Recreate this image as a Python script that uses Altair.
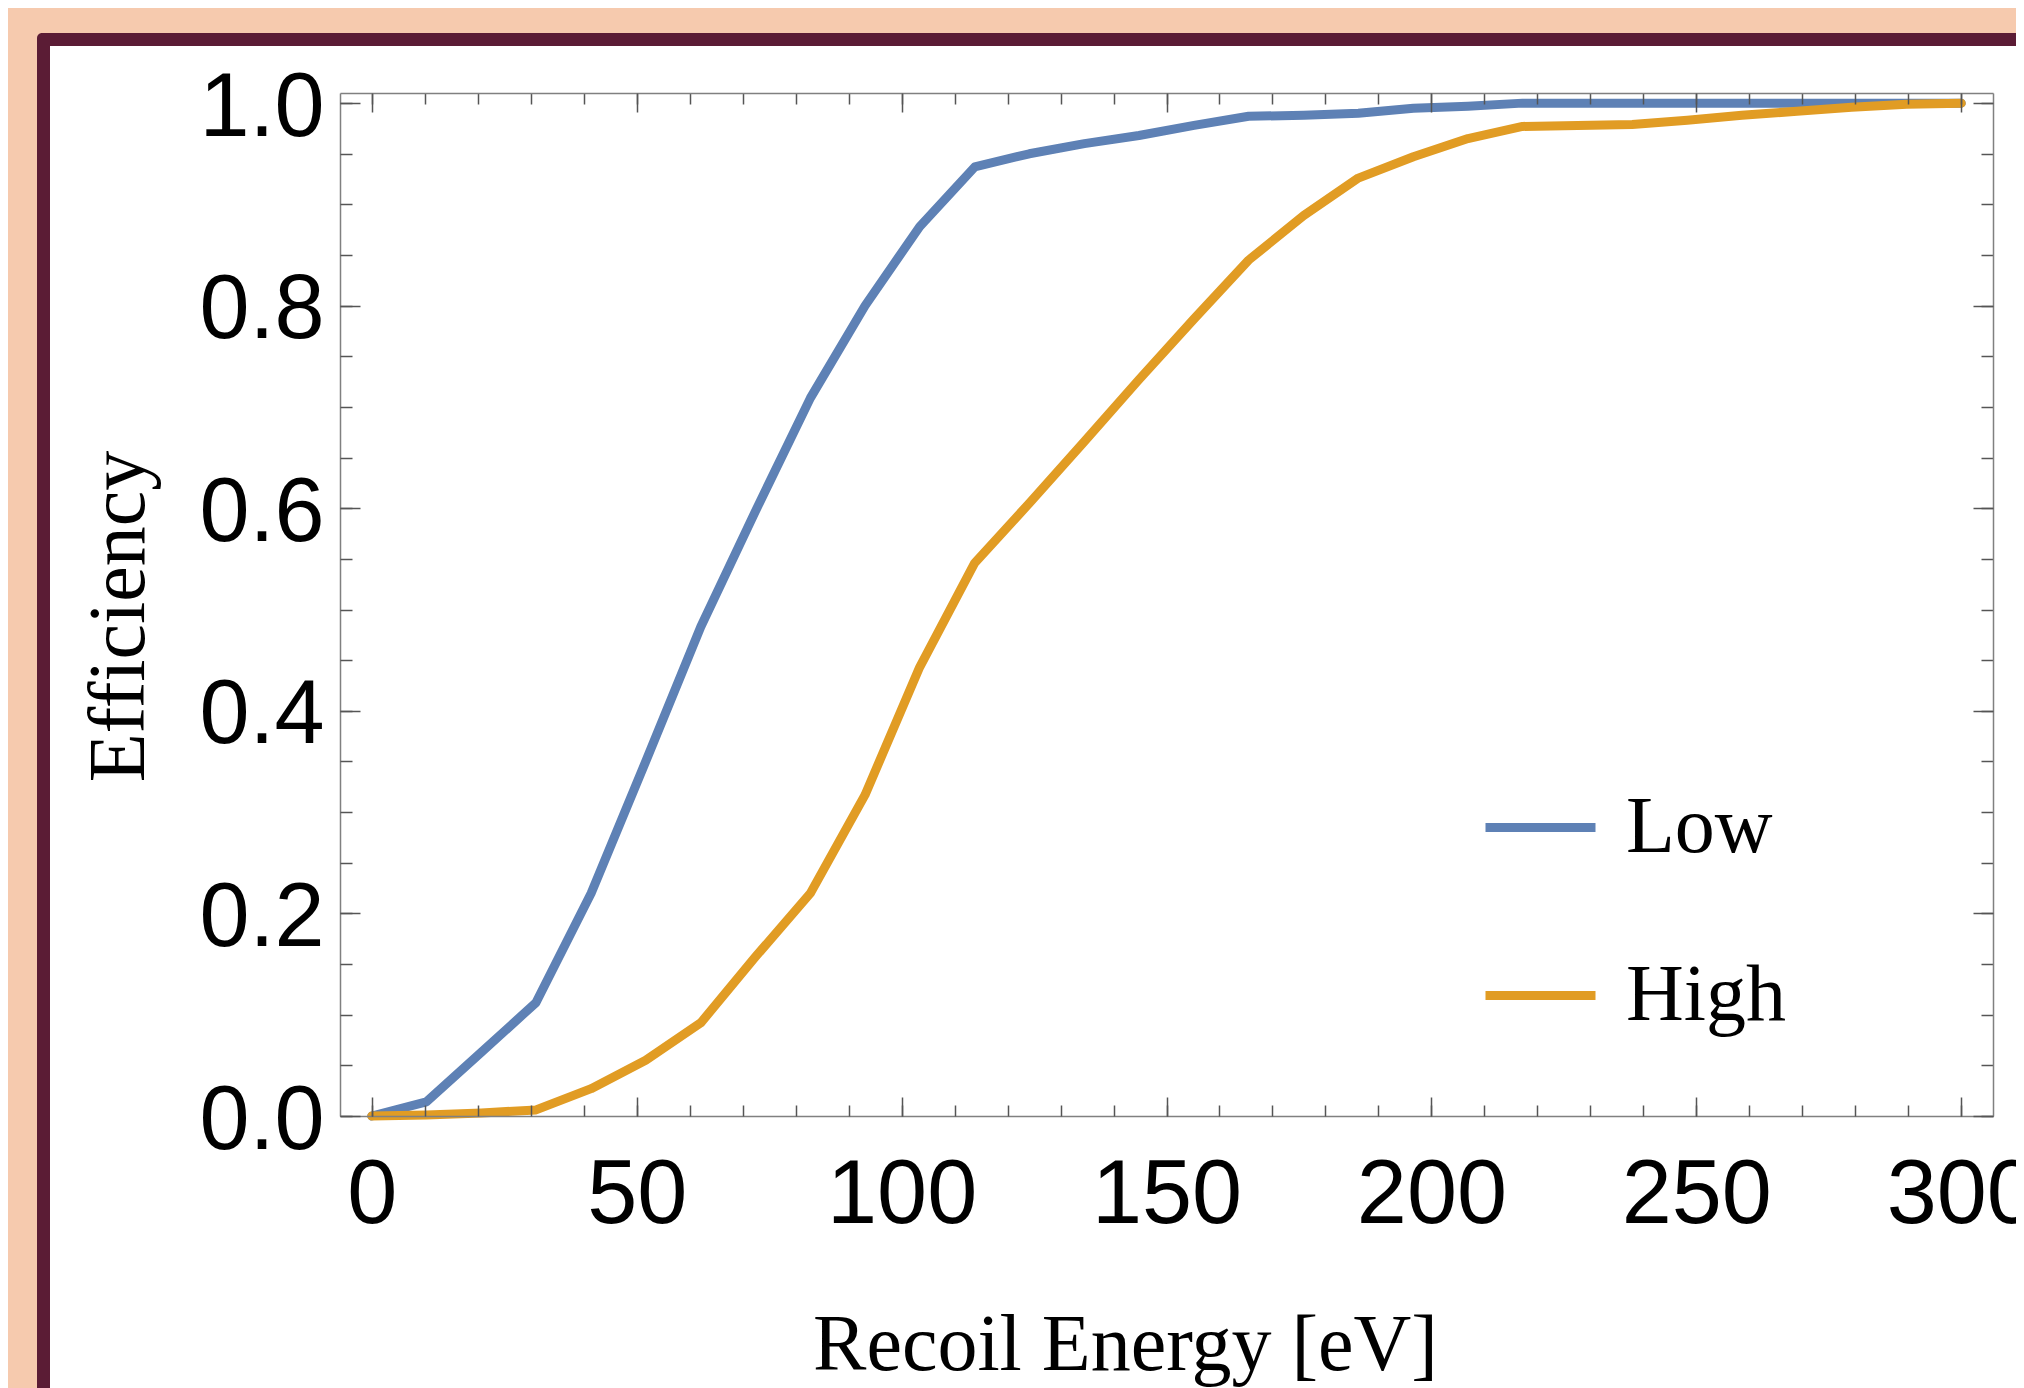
import altair as alt
import pandas as pd

# ---- data ----
energy = [0, 10.3, 20.7, 31.0, 41.4, 51.7, 62.1, 72.4, 82.8, 93.1, 103.4, 113.8,
          124.1, 134.5, 144.8, 155.2, 165.5, 175.9, 186.2, 196.6, 206.9, 217.2,
          227.6, 237.9, 248.3, 258.6, 269.0, 279.3, 289.7, 300.0]
low = [0.0, 0.014, 0.063, 0.112, 0.220, 0.350, 0.483, 0.597, 0.709, 0.800, 0.878,
       0.937, 0.950, 0.960, 0.968, 0.978, 0.987, 0.988, 0.990, 0.995, 0.997,
       1.0, 1.0, 1.0, 1.0, 1.0, 1.0, 1.0, 1.0, 1.0]
high = [0.0, 0.001, 0.003, 0.006, 0.027, 0.055, 0.092, 0.157, 0.220, 0.317, 0.443,
        0.546, 0.605, 0.666, 0.727, 0.787, 0.845, 0.889, 0.926, 0.947, 0.965,
        0.977, 0.978, 0.979, 0.983, 0.988, 0.992, 0.996, 0.999, 1.0]
series_names = ["Low", "High"]
series_colors = ["#5E81B5", "#E19C24"]

x_major = [0, 50, 100, 150, 200, 250, 300]
x_minor = list(range(0, 301, 10))
y_major = [0.0, 0.2, 0.4, 0.6, 0.8, 1.0]
y_minor = [0.0, 0.05, 0.1, 0.15, 0.2, 0.25, 0.3, 0.35, 0.4, 0.45, 0.5, 0.55, 0.6,
           0.65, 0.7, 0.75, 0.8, 0.85, 0.9, 0.95, 1.0]

df = pd.DataFrame({
    "E": energy * 2,
    "eff": low + high,
    "series": ["Low"] * len(energy) + ["High"] * len(energy),
})

W, H = 1653, 1023
PEACH = "#F6CAAE"
MAROON = "#5B1C35"
TICK = "#555555"
FRAME = "#808080"
SANS = "Liberation Sans"
SERIF = "Liberation Serif"
LW = 9

xscale = alt.Scale(domain=[-6, 306], nice=False, zero=False)
yscale = alt.Scale(domain=[0, 1.01], nice=False, zero=False)
cscale = alt.Scale(domain=series_names, range=series_colors)

# decorative frame (page decoration around the figure)
deco = alt.Chart(pd.DataFrame({"d": [0]}))
outer = deco.mark_rect(color=MAROON, cornerRadius=5).encode(
    x=alt.value(-303), x2=alt.value(2200), y=alt.value(-60), y2=alt.value(1500))
inner = deco.mark_rect(color="white").encode(
    x=alt.value(-290), x2=alt.value(2200), y=alt.value(-47), y2=alt.value(1500))

legend = alt.Legend(
    orient="none", legendX=1141, legendY=675, title=None,
    symbolType="stroke", symbolSize=12100, symbolStrokeWidth=LW,
    labelFont=SERIF, labelFontSize=80, labelColor="black", labelLimit=0,
    labelOffset=26, rowPadding=68, zindex=2,
)

base = alt.Chart(df)

low_line = base.transform_filter(alt.datum.series == "Low").mark_line(
    strokeWidth=LW, strokeCap="round", strokeJoin="round").encode(
    x=alt.X("E:Q", scale=xscale, axis=alt.Axis(
        orient="bottom", values=x_major, ticks=False, grid=False,
        domain=True, domainColor=FRAME, domainWidth=1.5,
        labelFont=SANS, labelFontSize=90, labelColor="black",
        labelPadding=35, labelFlush=False, labelOverlap=False,
        title="Recoil Energy [eV]", titleFont=SERIF, titleFontSize=80,
        titleFontWeight="normal", titleColor="black",
        titleX=785, titleY=253, titleBaseline="alphabetic", titleAlign="center",
        zindex=1)),
    y=alt.Y("eff:Q", scale=yscale, axis=alt.Axis(
        orient="left", values=y_major, format=".1f", ticks=False, grid=False,
        domain=True, domainColor=FRAME, domainWidth=1.5,
        labelFont=SANS, labelFontSize=90, labelColor="black",
        labelPadding=16, labelBaseline="middle", labelOffset=5,
        title="Efficiency", titleFont=SERIF, titleFontSize=80,
        titleFontWeight="normal", titleColor="black", titleAngle=270,
        titleX=-197, titleY=523, titleBaseline="alphabetic", titleAlign="center",
        zindex=1)),
    color=alt.Color("series:N", scale=cscale, legend=legend),
)

high_line = base.transform_filter(alt.datum.series == "High").mark_line(
    strokeWidth=LW, strokeCap="round", strokeJoin="round").encode(
    x=alt.X("E:Q", scale=xscale, axis=None),
    y=alt.Y("eff:Q", scale=yscale, axis=None),
    color=alt.Color("series:N", scale=cscale, legend=legend),
)


def xticks(orient, values, size, domain=False):
    return base.mark_point(opacity=0).encode(
        x=alt.X("E:Q", scale=xscale, axis=alt.Axis(
            orient=orient, offset=-H, values=values, tickSize=size,
            tickColor=TICK, tickWidth=1.5, labels=False, grid=False,
            domain=domain, domainColor=FRAME, domainWidth=1.5,
            title=None, zindex=1)),
        y=alt.Y("eff:Q", scale=yscale, axis=None),
    )


def yticks(orient, values, size, domain=False):
    return base.mark_point(opacity=0).encode(
        x=alt.X("E:Q", scale=xscale, axis=None),
        y=alt.Y("eff:Q", scale=yscale, axis=alt.Axis(
            orient=orient, offset=-W, values=values, tickSize=size,
            tickColor=TICK, tickWidth=1.5, labels=False, grid=False,
            domain=domain, domainColor=FRAME, domainWidth=1.5,
            title=None, zindex=1)),
    )


chart = alt.layer(
    outer, inner, low_line, high_line,
    xticks("top", x_minor, 11), xticks("top", x_major, 19),
    xticks("bottom", x_minor, 11, domain=True), xticks("bottom", x_major, 19),
    yticks("right", y_minor, 12), yticks("right", y_major, 20),
    yticks("left", y_minor, 12, domain=True), yticks("left", y_major, 20),
).resolve_axis(x="independent", y="independent").properties(
    width=W, height=H, autosize="none",
    padding={"left": 332, "top": 85, "right": 23, "bottom": 272},
    background=PEACH,
).configure_view(stroke=None)

chart.save("out.html", embed_options={"renderer": "svg", "actions": False})
